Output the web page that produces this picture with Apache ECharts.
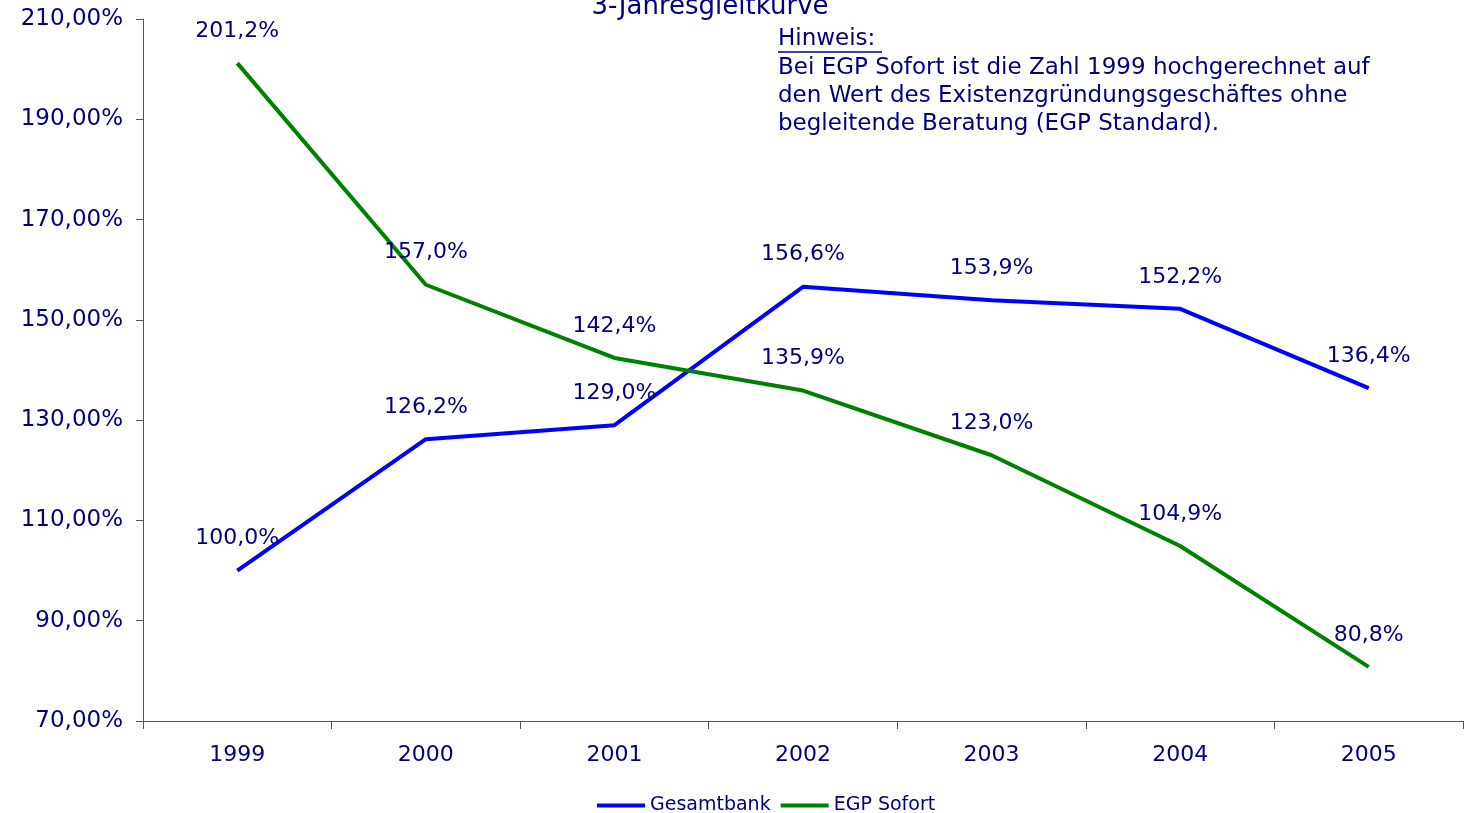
<!DOCTYPE html>
<html>
<head>
<meta charset="utf-8">
<script src="https://cdn.jsdelivr.net/npm/echarts@6/dist/echarts.min.js"></script>
<style>
  html, body { margin: 0; padding: 0; background: #fff; }
  #chart { width: 1464px; height: 813px; }
</style>
</head>
<body>
<div id="chart"></div>
<script>
var years = ['1999', '2000', '2001', '2002', '2003', '2004', '2005'];
var gesamtbank = [100.0, 126.2, 129.0, 156.6, 153.9, 152.2, 136.4];
var egpSofort = [201.2, 157.0, 142.4, 135.9, 123.0, 104.9, 80.8];
var yTicks = [70, 90, 110, 130, 150, 170, 190, 210];
var hinweisLines = [
    'Bei EGP Sofort ist die Zahl 1999 hochgerechnet auf',
    'den Wert des Existenzgründungsgeschäftes ohne',
    'begleitende Beratung (EGP Standard).'
];

var navy = '#000080';
var font = 'DejaVu Sans';
var myChart = echarts.init(document.getElementById('chart'));

var labelStyle = {
    show: true,
    position: 'top',
    distance: 21,
    color: navy,
    fontFamily: font,
    fontSize: 22,
    formatter: function (p) {
        return p.value.toFixed(1).replace('.', ',') + '%';
    }
};

var option = {
    animation: false,
    textStyle: { fontFamily: font },
    title: {
        text: '3-Jahresgleitkurve',
        left: 705,
        textAlign: 'center',
        top: -11,
        textStyle: { color: navy, fontFamily: font, fontSize: 26, fontWeight: 'normal' }
    },
    legend: {
        top: 791,
        left: 592,
        icon: 'rect',
        itemWidth: 48,
        itemHeight: 4,
        itemGap: 10,
        textStyle: { color: navy, fontFamily: font, fontSize: 19 },
        data: ['Gesamtbank', 'EGP Sofort']
    },
    grid: {
        left: 143,
        right: 1,
        top: 19,
        bottom: 92
    },
    xAxis: {
        type: 'category',
        data: years,
        boundaryGap: true,
        axisLine: { lineStyle: { color: '#555', width: 1 } },
        axisTick: { show: true, length: 8, lineStyle: { color: '#555' } },
        axisLabel: { color: navy, fontFamily: font, fontSize: 22, margin: 23 },
        splitLine: { show: false }
    },
    yAxis: {
        type: 'value',
        min: 70,
        max: 210,
        axisLine: { show: true, lineStyle: { color: '#555', width: 1 } },
        axisTick: { show: true, length: 7, lineStyle: { color: '#555' }, customValues: yTicks },
        axisLabel: {
            color: navy,
            fontFamily: font,
            fontSize: 23,
            margin: 20,
            customValues: yTicks,
            formatter: function (v) {
                return v.toFixed(2).replace('.', ',') + '%';
            }
        },
        splitLine: { show: false }
    },
    graphic: [
        {
            type: 'text',
            left: 778,
            top: 28,
            style: {
                text: 'Hinweis:',
                fill: navy,
                font: '23px "' + font + '"'
            }
        },
        {
            type: 'line',
            shape: { x1: 778, y1: 52, x2: 882, y2: 52 },
            style: { stroke: navy, lineWidth: 1.5 }
        },
        {
            type: 'text',
            left: 778,
            top: 54,
            style: {
                text: hinweisLines.join('\n'),
                fill: navy,
                font: '23px "' + font + '"',
                lineHeight: 28
            }
        }
    ],
    series: [
        {
            name: 'Gesamtbank',
            type: 'line',
            data: gesamtbank,
            symbol: 'circle',
            symbolSize: 0,
            lineStyle: { color: '#0000ff', width: 4 },
            itemStyle: { color: '#0000ff' },
            label: labelStyle
        },
        {
            name: 'EGP Sofort',
            type: 'line',
            data: egpSofort,
            symbol: 'circle',
            symbolSize: 0,
            lineStyle: { color: '#008000', width: 4 },
            itemStyle: { color: '#008000' },
            label: labelStyle
        }
    ]
};

myChart.setOption(option);
</script>
</body>
</html>
